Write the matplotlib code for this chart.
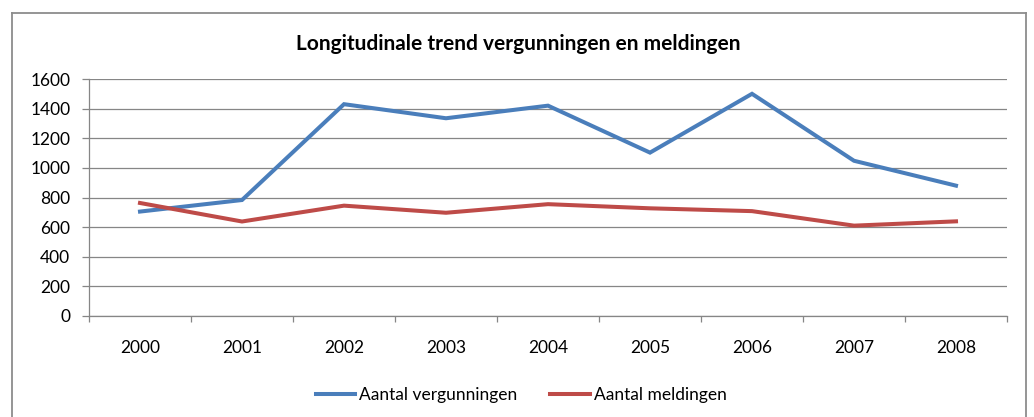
import numpy as np
import matplotlib.pyplot as plt
from matplotlib.lines import Line2D
from matplotlib.ticker import FixedLocator

# data
YEARS = ['2000', '2001', '2002', '2003', '2004', '2005', '2006', '2007', '2008']
VERGUNNINGEN = [705, 783, 1430, 1335, 1420, 1103, 1500, 1048, 880]
MELDINGEN = [763, 638, 745, 697, 755, 727, 708, 610, 639]
Y_TICKS = [0, 200, 400, 600, 800, 1000, 1200, 1400, 1600]

plt.rcParams['font.family'] = ['Lato', 'DejaVu Sans']

W, H = 1034, 417
fig = plt.figure(figsize=(W / 100, H / 100), dpi=100, facecolor='w')

# chart frame (Excel chart area border)
fc = '#8c8c8c'
x0, x1, yt = 12 / W, 1026 / W, 1 - 13 / H
fig.add_artist(Line2D([x0, x0], [-0.01, yt], transform=fig.transFigure, color=fc, lw=1.3))
fig.add_artist(Line2D([x1, x1], [-0.01, yt], transform=fig.transFigure, color=fc, lw=1.3))
fig.add_artist(Line2D([x0, x1], [yt, yt], transform=fig.transFigure, color=fc, lw=1.3))

ax = fig.add_axes([89 / W, 1 - 316 / H, (1007 - 89) / W, (316 - 79) / H])

x = np.arange(len(YEARS))
ax.plot(x, VERGUNNINGEN, color='#4A7EBB', lw=2.9, label='Aantal vergunningen', solid_joinstyle='miter')
ax.plot(x, MELDINGEN, color='#BE4B48', lw=2.9, label='Aantal meldingen', solid_joinstyle='miter')

ax.set_xlim(-0.5, len(YEARS) - 0.5)
ax.set_ylim(0, 1600)
ax.set_yticks(Y_TICKS)
ax.yaxis.grid(True, color='#868686', lw=0.9)
ax.set_axisbelow(True)

# category axis: ticks between categories, labels centred
ax.xaxis.set_major_locator(FixedLocator(np.arange(-0.5, len(YEARS), 1.0)))
ax.xaxis.set_minor_locator(FixedLocator(x))
ax.set_xticklabels([])
ax.set_xticklabels(YEARS, minor=True)
ax.tick_params(axis='x', which='major', length=4.5, width=0.9, color='#868686')
ax.tick_params(axis='x', which='minor', length=0, pad=17, labelsize=12.5)
ax.tick_params(axis='y', length=5, width=0.9, color='#868686', pad=8.5, labelsize=12.5)

for s in ['top', 'right']:
    ax.spines[s].set_visible(False)
for s in ['left', 'bottom']:
    ax.spines[s].set_color('#868686')
    ax.spines[s].set_linewidth(0.9)

fig.text(518 / W, 1 - 44 / H, 'Longitudinale trend vergunningen en meldingen',
         ha='center', va='center', fontsize=15, fontweight='bold')

fig.legend(loc='center', bbox_to_anchor=(521 / W, 1 - 395 / H), ncol=2, frameon=False,
           fontsize=12.5, handlelength=2.3, handletextpad=0.2, columnspacing=1.9)

fig.savefig('out.png', dpi=100, facecolor='w')
